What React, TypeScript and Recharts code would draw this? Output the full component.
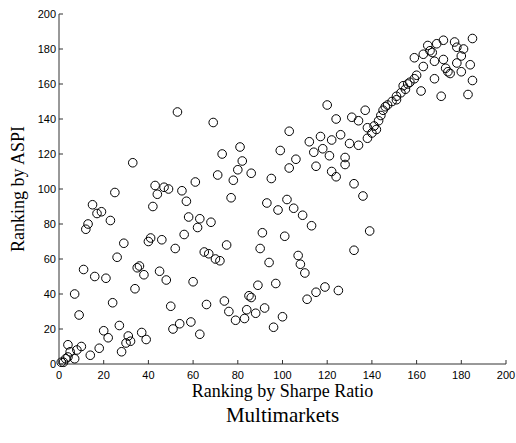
import React from 'react';
import { ScatterChart, Scatter, XAxis, YAxis } from 'recharts';

const sharpeRank: number[] = [
  1, 2, 3, 4, 7, 5, 8, 4, 10, 14, 18, 22, 20, 27, 28, 30, 32, 31, 9, 37,
  39, 24, 7, 34, 11, 16, 21, 26, 35, 36, 38, 45, 48, 52, 50, 51, 54, 59, 60, 63,
  33, 25, 15, 17, 19, 23, 13, 12, 29, 43, 44, 47, 49, 42, 40, 41, 46, 55, 57, 61,
  58, 56, 62, 63, 53, 69, 120, 124, 103, 112, 117, 122, 126, 114, 118, 121, 115, 122, 124, 99,
  106, 103, 95, 81, 73, 82, 80, 86, 78, 71, 77, 93, 98, 102, 105, 109, 113, 68, 91, 101,
  75, 90, 65, 67, 70, 72, 94, 107, 108, 110, 89, 97, 85, 86, 66, 74, 76, 84, 88, 92,
  79, 83, 100, 96, 111, 115, 119, 125, 128, 132, 136, 139, 132, 185, 172, 177, 169, 165, 178, 181,
  166, 163, 167, 159, 180, 172, 168, 178, 184, 163, 173, 174, 175, 180, 160, 159, 168, 185, 157, 156,
  154, 155, 162, 183, 171, 151, 149, 147, 146, 137, 131, 134, 144, 143, 141, 142, 140, 138, 138, 134,
  130, 128, 153, 151, 145,
];

const aspiRank: number[] = [
  1, 1, 3, 4, 3, 7, 8, 11, 10, 5, 9, 15, 19, 22, 7, 12, 13, 16, 28, 18,
  14, 35, 40, 43, 54, 50, 49, 61, 55, 56, 51, 53, 48, 66, 33, 20, 23, 24, 47, 17,
  115, 98, 91, 86, 87, 82, 80, 77, 69, 102, 97, 101, 100, 90, 70, 72, 71, 99, 93, 104,
  84, 74, 78, 83, 144, 138, 148, 140, 133, 127, 130, 128, 131, 121, 123, 119, 113, 110, 107, 122,
  117, 112, 106, 124, 120, 116, 111, 109, 105, 108, 95, 92, 88, 94, 89, 85, 79, 81, 75, 73,
  68, 66, 64, 63, 60, 59, 58, 62, 57, 52, 45, 46, 39, 38, 34, 36, 30, 31, 29, 32,
  25, 26, 27, 21, 37, 41, 44, 42, 114, 103, 96, 76, 65, 186, 185, 184, 183, 182, 181, 180,
  179, 177, 178, 175, 176, 174, 173, 172, 171, 170, 169, 167, 166, 167, 165, 163, 163, 162, 161, 160,
  159, 157, 156, 154, 153, 151, 150, 148, 147, 145, 141, 139, 142, 139, 136, 134, 132, 129, 135, 125,
  126, 118, 155, 153, 145,
];

const axisTicks: number[] = [0, 20, 40, 60, 80, 100, 120, 140, 160, 180, 200];

const data = sharpeRank.map((x, i) => ({ x, y: aspiRank[i] }));

const tickFont = { fontFamily: '"Liberation Sans", Arial, sans-serif', fontSize: 11, fill: '#000' };

const XTick = (props: any) => {
  const { x, y, payload } = props;
  const axisY = y - 8;
  return (
    <g>
      <line x1={x} y1={axisY} x2={x} y2={axisY - 4} stroke="#333" strokeWidth={1} />
      <text x={x} y={axisY + 7} textAnchor="middle" dy="0.71em" {...tickFont}>
        {payload.value}
      </text>
    </g>
  );
};

const YTick = (props: any) => {
  const { x, y, payload } = props;
  const axisX = x + 8;
  return (
    <g>
      <line x1={axisX} y1={y} x2={axisX + 4} y2={y} stroke="#333" strokeWidth={1} />
      <text x={axisX - 3} y={y} textAnchor="end" dy="0.35em" {...tickFont}>
        {payload.value}
      </text>
    </g>
  );
};

const Ring = (props: any) => {
  const { cx, cy } = props;
  return <circle cx={cx} cy={cy} r={4.3} fill="none" stroke="#000" strokeWidth={1} />;
};

export default function App() {
  const labelFont = '"Liberation Serif", "Times New Roman", serif';
  return (
    <div style={{ position: 'absolute', left: 0, top: 0, width: 516, height: 443, background: '#fff' }}>
      <ScatterChart width={516} height={443} margin={{ top: 14, right: 10, bottom: 0, left: 0 }}>
        <XAxis
          type="number"
          dataKey="x"
          domain={[0, 200]}
          ticks={axisTicks}
          interval={0}
          height={79}
          axisLine={{ stroke: '#333', strokeWidth: 1 }}
          tickLine={false}
          tick={<XTick />}
        />
        <YAxis
          type="number"
          dataKey="y"
          domain={[0, 200]}
          ticks={axisTicks}
          interval={0}
          width={59}
          axisLine={{ stroke: '#333', strokeWidth: 1 }}
          tickLine={false}
          tick={<YTick />}
        />
        <Scatter data={data} shape={<Ring />} isAnimationActive={false} />
      </ScatterChart>
      <div
        style={{
          position: 'absolute', left: 59, width: 447, top: 382, textAlign: 'center',
          fontFamily: labelFont, fontSize: 18, lineHeight: '18px', color: '#000', whiteSpace: 'nowrap',
        }}
      >
        Ranking by Sharpe Ratio
      </div>
      <div
        style={{
          position: 'absolute', left: 59, width: 447, top: 405, textAlign: 'center',
          fontFamily: labelFont, fontSize: 21, lineHeight: '21px', color: '#000', whiteSpace: 'nowrap',
        }}
      >
        Multimarkets
      </div>
      <div
        style={{
          position: 'absolute', left: 18 - 150, width: 300, top: 189 - 9, textAlign: 'center',
          fontFamily: labelFont, fontSize: 18, lineHeight: '18px', color: '#000', whiteSpace: 'nowrap',
          transform: 'rotate(-90deg)', transformOrigin: '50% 50%',
        }}
      >
        Ranking by ASPI
      </div>
    </div>
  );
}
